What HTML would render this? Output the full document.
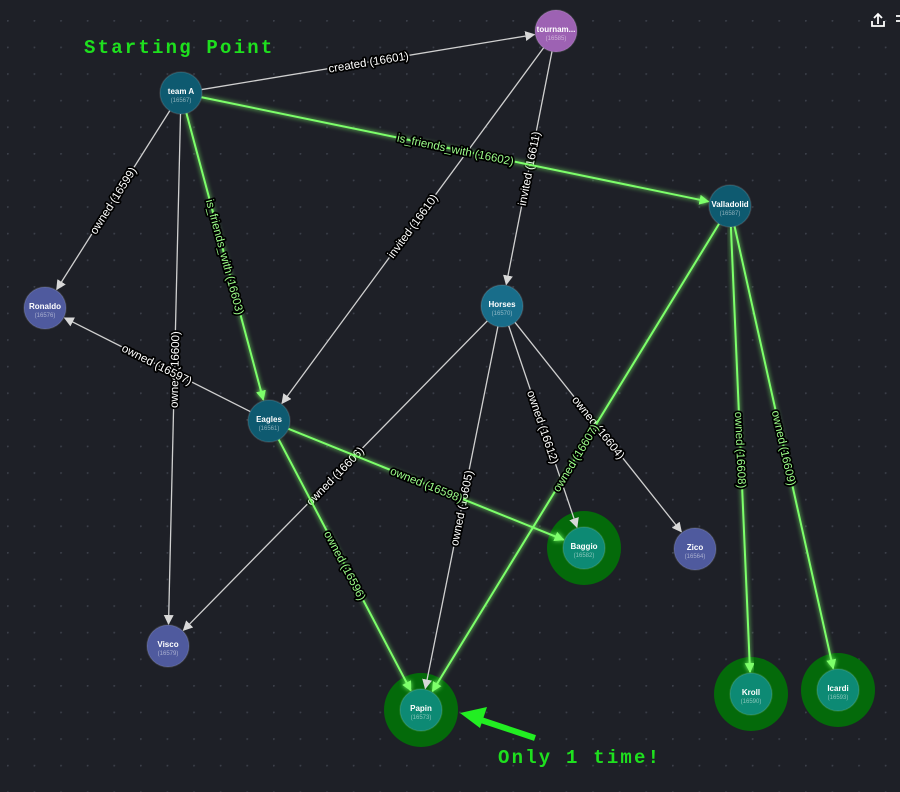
<!DOCTYPE html>
<html><head><meta charset="utf-8"><style>
html,body{margin:0;padding:0;background:#1e2027;}
svg{display:block}
</style></head><body>
<svg id="s" width="900" height="792" xmlns="http://www.w3.org/2000/svg" font-family="Liberation Sans, sans-serif">
<defs>
<pattern id="dots" x="7" y="20" width="26.6" height="26.6" patternUnits="userSpaceOnUse"><circle cx="0.8" cy="0.8" r="1" fill="#3b3f49"/></pattern>
<filter id="glow" x="-20%" y="-20%" width="140%" height="140%"><feGaussianBlur stdDeviation="2.5" result="b"/><feMerge><feMergeNode in="b"/><feMergeNode in="SourceGraphic"/></feMerge></filter>
<marker id="aw" markerWidth="10" markerHeight="10" refX="9" refY="5" orient="auto" markerUnits="userSpaceOnUse"><path d="M0,0 L10,5 L0,10 z" fill="#d8d8d8"/></marker>
<marker id="ag" markerWidth="10" markerHeight="10" refX="9" refY="5" orient="auto" markerUnits="userSpaceOnUse"><path d="M0,0 L10,5 L0,10 z" fill="#7dff6a"/></marker>
</defs>
<rect width="900" height="792" fill="#1e2027"/>
<rect width="900" height="792" fill="url(#dots)"/>
<g id="rings"></g>
<g id="edges"></g>
<g id="nodes"></g>
<text x="84" y="53" font-family="Liberation Mono, monospace" font-weight="bold" font-size="19" letter-spacing="2.2" fill="#1ee01e">Starting Point</text>
<text x="498" y="763" font-family="Liberation Mono, monospace" font-weight="bold" font-size="19" letter-spacing="2.2" fill="#1ee01e">Only 1 time!</text>
<line x1="535" y1="738" x2="478" y2="719" stroke="#22ee22" stroke-width="6"/>
<path d="M460,713 L487,707 L480,728 z" fill="#22ee22"/>
<g fill="none" stroke="#fff" stroke-width="1.8">
<path d="M878,14 v10 M874,18 l4,-4 l4,4 M872,21 v5 h12 v-5"/>
<path d="M896,16 h4 M896,21 h4"/>
</g>
</svg>
<script>
var N={
 tour:[556,31,21,'#9d62b3','tournam...','16585'],
 teamA:[181,93,21,'#0e5a70','team A','16567'],
 vall:[730,206,21,'#0e5a70','Valladolid','16587'],
 ron:[45,308,21,'#4f5a9e','Ronaldo','16576'],
 hor:[502,306,21,'#186d8a','Horses','16570'],
 eag:[269,421,21,'#0e5a70','Eagles','16561'],
 bag:[584,548,21,'#0d8a74','Baggio','16582',1],
 zico:[695,549,21,'#4f5a9e','Zico','16564'],
 visco:[168,646,21,'#4f5a9e','Visco','16579'],
 papin:[421,710,21,'#0d8a74','Papin','16573',1],
 kroll:[751,694,21,'#0d8a74','Kroll','16590',1],
 icardi:[838,690,21,'#0d8a74','Icardi','16593',1]
};
var E=[
 ['teamA','tour','created (16601)',0],
 ['teamA','ron','owned (16599)',0],
 ['teamA','visco','owned (16600)',0],
 ['tour','eag','invited (16610)',0],
 ['tour','hor','invited (16611)',0],
 ['eag','ron','owned (16597)',0],
 ['hor','visco','owned (16606)',0],
 ['hor','papin','owned (16605)',0],
 ['hor','bag','owned (16612)',0],
 ['hor','zico','owned (16604)',0],
 ['teamA','vall','is_friends_with (16602)',1],
 ['teamA','eag','is_friends_with (16603)',1],
 ['eag','bag','owned (16598)',1],
 ['eag','papin','owned (16596)',1],
 ['vall','papin','owned (16607)',1],
 ['vall','kroll','owned (16608)',1],
 ['vall','icardi','owned (16609)',1]
];
var ns='http://www.w3.org/2000/svg';
function el(t,a,p,txt){var e=document.createElementNS(ns,t);for(var k in a)e.setAttribute(k,a[k]);if(txt)e.textContent=txt;p.appendChild(e);return e;}
var eg=document.getElementById('edges'),ng=document.getElementById('nodes'),rg=document.getElementById('rings');
E.forEach(function(e){
 var a=N[e[0]],b=N[e[1]];var dx=b[0]-a[0],dy=b[1]-a[1],L=Math.hypot(dx,dy),ux=dx/L,uy=dy/L;
 var x1=a[0]+ux*a[2],y1=a[1]+uy*a[2],x2=b[0]-ux*(b[2]+1),y2=b[1]-uy*(b[2]+1);
 var g=e[3];
 el('line',{x1:x1,y1:y1,x2:x2,y2:y2,stroke:g?'#7dff6a':'#d0d0d0','stroke-width':g?2:1.3,'marker-end':g?'url(#ag)':'url(#aw)',filter:g?'url(#glow)':''},eg);
 var ang=Math.atan2(dy,dx)*180/Math.PI;if(ang>90)ang-=180;if(ang<-90)ang+=180;
 var mx=(a[0]+b[0])/2,my=(a[1]+b[1])/2;
 el('text',{x:mx,y:my+4,'text-anchor':'middle','font-size':11.5,fill:g?'#9dff8a':'#ffffff',stroke:'#000','stroke-width':3.5,'paint-order':'stroke','stroke-linejoin':'round',transform:'rotate('+ang+' '+mx+' '+my+')'},eg,e[2]);
});
for(var k in N){var n=N[k];
 if(n[6])el('circle',{cx:n[0],cy:n[1],r:37,fill:'#046a0a'},rg);
 el('circle',{cx:n[0],cy:n[1],r:n[2],fill:n[3],stroke:'rgba(255,255,255,0.12)','stroke-width':1.5},ng);
 el('text',{x:n[0],y:n[1]+1,'text-anchor':'middle','font-size':8,'font-weight':'bold',fill:'#fff'},ng,n[4]);
 el('text',{x:n[0],y:n[1]+9,'text-anchor':'middle','font-size':6,fill:'rgba(255,255,255,0.5)'},ng,'('+n[5]+')');
}
</script>
</body></html>
